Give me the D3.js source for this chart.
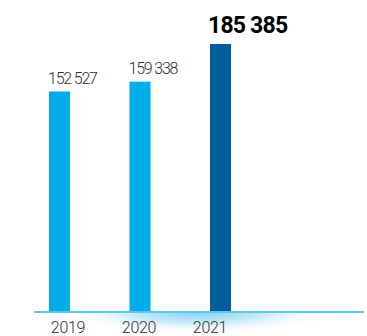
<!DOCTYPE html>
<html><head><meta charset="utf-8">
<script src="https://cdn.jsdelivr.net/npm/d3@7"></script>
<style>html,body{margin:0;padding:0;background:#fff;}svg{display:block;}</style>
</head><body>
<svg id="c" width="367" height="336"></svg>
<script>
const years = ["2019", "2020", "2021"];
const values = [152527, 159338, 185385];
const valueLabels = ["152 527", "159 338", "185 385"];
const highlight = [false, false, true];

const svg = d3.select("#c");
const x = d3.scaleBand().domain(years).range([49, 231]).paddingInner(0.739).paddingOuter(0);
const xl = d3.scalePoint().domain(years).range([68, 210]);
const y = d3.scaleLinear().domain([0, 185385]).range([312, 44]);

const defs = svg.append("defs");
const g = defs.append("radialGradient").attr("id", "glow")
  .attr("gradientUnits", "userSpaceOnUse").attr("cx", 198).attr("cy", 312).attr("r", 140)
  .attr("gradientTransform", "translate(198,312) scale(1,0.16) translate(-198,-312)");
g.append("stop").attr("offset", "0%").attr("stop-color", "#7fd0f2").attr("stop-opacity", 1);
g.append("stop").attr("offset", "45%").attr("stop-color", "#aee0f7").attr("stop-opacity", 0.75);
g.append("stop").attr("offset", "100%").attr("stop-color", "#ffffff").attr("stop-opacity", 0);

svg.append("rect").attr("x", 40).attr("y", 312).attr("width", 320).attr("height", 24)
  .attr("fill", "url(#glow)");

svg.selectAll("rect.bar").data(years).join("rect").attr("class", "bar")
  .attr("x", d => x(d)).attr("width", x.bandwidth())
  .attr("y", (d, i) => y(values[i])).attr("height", (d, i) => y(0) - y(values[i]))
  .attr("fill", (d, i) => highlight[i] ? "#005d9e" : "#00ade8");

svg.append("line").attr("x1", 34).attr("x2", 364).attr("y1", 312).attr("y2", 312)
  .attr("stroke", "#5cc6ee").attr("stroke-width", 2);

svg.selectAll("text.val").data(years).join("text").attr("class", "val")
  .attr("x", (d, i) => x(d) - (highlight[i] ? 2 : 1))
  .attr("y", (d, i) => y(values[i]) - (highlight[i] ? 11 : 8))
  .attr("font-family", "Roboto")
  .attr("font-weight", (d, i) => highlight[i] ? 700 : 300)
  .attr("font-size", (d, i) => highlight[i] ? 23 : 16)
  .attr("letter-spacing", (d, i) => highlight[i] ? -0.8 : -1.2)
  .attr("fill", (d, i) => highlight[i] ? "#000" : "#2e2e2e")
  .text((d, i) => valueLabels[i]);

svg.selectAll("text.yr").data(years).join("text").attr("class", "yr")
  .attr("x", d => xl(d)).attr("y", 332.5).attr("text-anchor", "middle")
  .attr("font-family", "Roboto").attr("font-weight", 300).attr("font-size", 16)
  .attr("letter-spacing", -0.3).attr("fill", "#2e2e2e")
  .text(d => d);
</script>
</body></html>
